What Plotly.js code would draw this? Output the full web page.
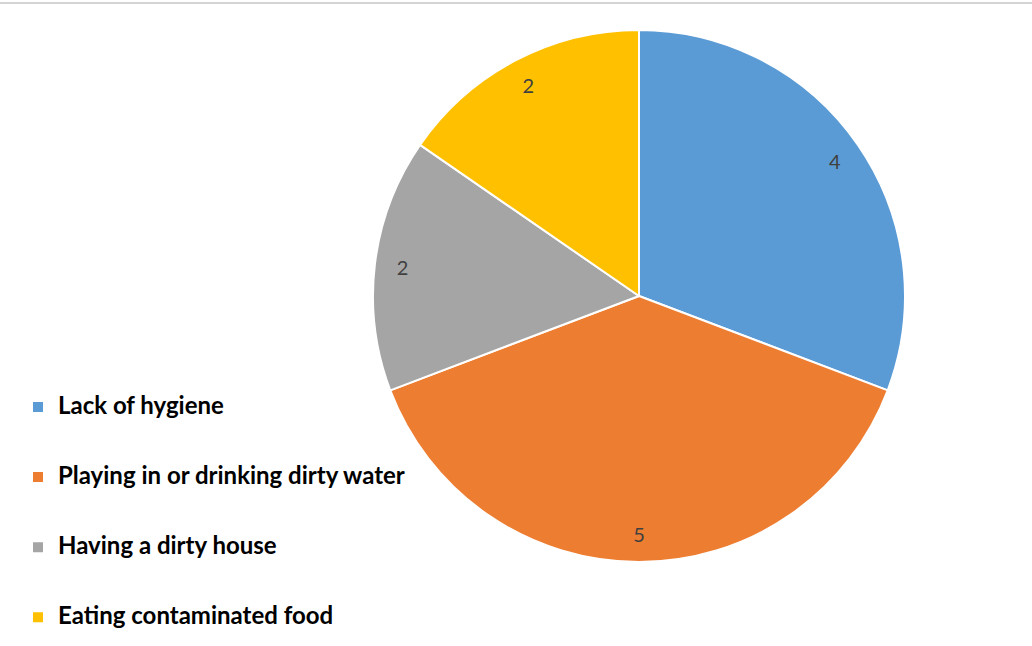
<!DOCTYPE html>
<html>
<head>
<meta charset="utf-8">
<script src="https://cdn.plot.ly/plotly-3.0.1.min.js"></script>
<style>html,body{margin:0;padding:0;background:#fff;}#chart{width:1032px;height:646px;}</style>
</head>
<body>
<div id="chart"></div>
<script>
const categories = ["Lack of hygiene", "Playing in or drinking dirty water", "Having a dirty house", "Eating contaminated food"];
const values = [4, 5, 2, 2];
const colors = ["#5B9BD5", "#ED7D31", "#A5A5A5", "#FFC000"];

// padded legend labels reproduce the wide row spacing of the legend
const legendLabels = categories.map(c => " <br><span style=\"font-size:24px\">" + c + "</span><br> ");
const domain = {x: [373/1032, 905/1032], y: [1 - 562/646, 1 - 30/646]};

const pieBase = {
  type: "pie",
  labels: legendLabels,
  values: values,
  sort: false,
  direction: "clockwise",
  rotation: 0,
  domain: domain,
  hoverinfo: "skip"
};

const traces = [
  Object.assign({}, pieBase, {
    marker: {colors: colors, line: {color: "#ffffff", width: 2}},
    textinfo: "none",
    showlegend: true
  }),
  Object.assign({}, pieBase, {
    hole: 0.79,
    marker: {colors: ["rgba(0,0,0,0)","rgba(0,0,0,0)","rgba(0,0,0,0)","rgba(0,0,0,0)"], line: {width: 0}},
    textinfo: "value",
    textposition: "inside",
    insidetextorientation: "horizontal",
    textfont: {family: "Lato, sans-serif", size: 20, color: "#404040"},
    showlegend: false
  })
];

const layout = {
  width: 1032,
  height: 646,
  margin: {l: 0, r: 0, t: 0, b: 0, autoexpand: false},
  paper_bgcolor: "#ffffff",
  showlegend: true,
  legend: {
    x: 18/1032, xanchor: "left",
    y: 1 - 367/646, yanchor: "top",
    font: {family: "Lato, sans-serif", size: 17.2, color: "#000000", weight: "bold"},
    bgcolor: "rgba(0,0,0,0)",
    traceorder: "normal"
  },
  shapes: [{
    type: "line", xref: "paper", yref: "paper",
    x0: 0, x1: 1, y0: 1 - 3/646, y1: 1 - 3/646,
    line: {color: "#d4d4d4", width: 2}
  }]
};

Plotly.newPlot("chart", traces, layout, {displayModeBar: false, staticPlot: true});
</script>
</body>
</html>
